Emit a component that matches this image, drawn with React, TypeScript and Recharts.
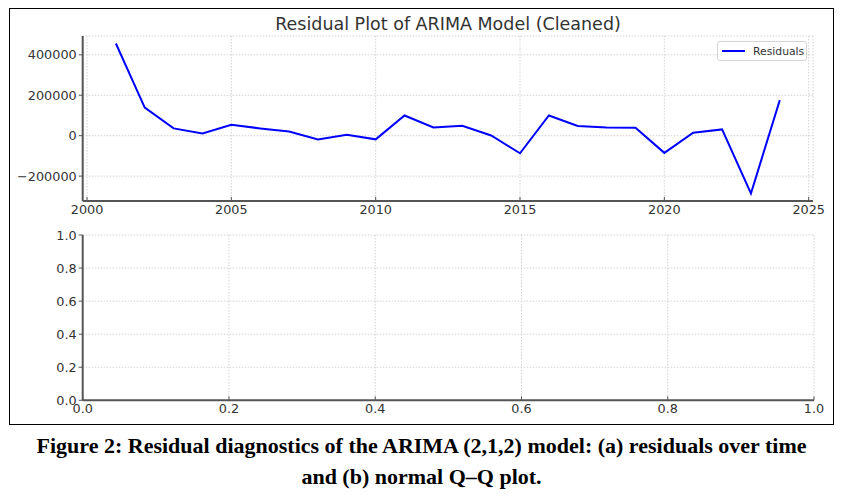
import React from "react";
import { LineChart, Line, XAxis, YAxis, CartesianGrid } from "recharts";

// residuals, one per year
const years = [2001, 2002, 2003, 2004, 2005, 2006, 2007, 2008, 2009, 2010, 2011, 2012, 2013, 2014, 2015, 2016, 2017, 2018, 2019, 2020, 2021, 2022, 2023, 2024];
const residuals = [456000, 139000, 36000, 11000, 54000, 36000, 21000, -19000, 5000, -18000, 100000, 41000, 49000, 1000, -87000, 100000, 48000, 41000, 39500, -85000, 15000, 31000, -286000, 176000];

const yearTicks = [2000, 2005, 2010, 2015, 2020, 2025];
const residualTicks = [-200000, 0, 200000, 400000];
const unitTicks = [0, 0.2, 0.4, 0.6, 0.8, 1.0];

const rows = years.map((y, i) => ({ year: y, resid: residuals[i] }));

// matplotlib-style 5% margins
function padded(vals: number[]): [number, number] {
  const lo = Math.min(...vals);
  const hi = Math.max(...vals);
  const r = hi - lo;
  return [lo - r * 0.05, hi + r * 0.05];
}

const FONT = "'DejaVu Sans', sans-serif";
const tickStyle = { fill: "#333", fontSize: 12.8, fontFamily: FONT };
const axisLine = { stroke: "#555", strokeWidth: 2 };
const gridProps = { stroke: "#c8c8c8", strokeDasharray: "1.5 1.5", strokeWidth: 0.8 };

const fmtBig = (v: number) => (v < 0 ? "\u2212" + Math.abs(v) : String(v));
const fmtUnit = (v: number) => v.toFixed(1);

function LegendBox() {
  return (
    <div
      style={{
        position: "absolute",
        left: 717,
        top: 41,
        width: 90,
        height: 20,
        border: "1px solid #d4d4d4",
        borderRadius: 3,
        background: "#fff",
        display: "flex",
        alignItems: "center",
        fontFamily: FONT,
        fontSize: 10.8,
        color: "#333",
        boxSizing: "border-box",
      }}
    >
      <span style={{ display: "inline-block", width: 23, height: 2, background: "#0000ff", marginLeft: 4, marginRight: 8 }} />
      Residuals
    </div>
  );
}

export default function App() {
  return (
    <div style={{ position: "absolute", left: 0, top: 0, width: 843, height: 503, background: "#fff" }}>
      <div
        style={{
          position: "absolute",
          left: 9,
          top: 8,
          width: 825,
          height: 417,
          border: "1.5px solid #000",
          boxSizing: "border-box",
        }}
      />
      <div
        style={{
          position: "absolute",
          left: 0,
          top: 14,
          width: 896,
          textAlign: "center",
          fontFamily: FONT,
          fontSize: 17.5,
          color: "#333",
          whiteSpace: "nowrap",
        }}
      >
        Residual Plot of ARIMA Model (Cleaned)
      </div>

      <div style={{ position: "absolute", left: 0, top: 0 }}>
        <LineChart width={843} height={230} data={rows} margin={{ top: 36, right: 30, bottom: 4, left: 22.7 }}>
          <CartesianGrid {...gridProps} />
          <XAxis
            dataKey="year"
            type="number"
            domain={padded(years)}
            ticks={yearTicks}
            allowDataOverflow
            height={25}
            axisLine={axisLine}
            tickLine={{ stroke: "#555" }}
            tickSize={-4}
            tickMargin={8}
            tick={tickStyle}
          />
          <YAxis
            type="number"
            domain={padded(residuals)}
            ticks={residualTicks}
            allowDataOverflow
            width={60}
            axisLine={axisLine}
            tickLine={{ stroke: "#555" }}
            tickSize={4}
            tickMargin={2}
            tick={tickStyle}
            tickFormatter={fmtBig}
          />
          <Line
            type="linear"
            dataKey="resid"
            name="Residuals"
            stroke="#0000ff"
            strokeWidth={2}
            dot={false}
            isAnimationActive={false}
          />
        </LineChart>
      </div>
      <LegendBox />

      <div style={{ position: "absolute", left: 0, top: 220 }}>
        <LineChart width={843} height={210} data={[]} margin={{ top: 15, right: 29, bottom: 4.7, left: 22.7 }}>
          <CartesianGrid {...gridProps} />
          <XAxis
            dataKey="x"
            type="number"
            domain={[0, 1]}
            ticks={unitTicks}
            allowDataOverflow
            height={25}
            axisLine={axisLine}
            tickLine={{ stroke: "#555" }}
            tickSize={-4}
            tickMargin={8}
            tick={tickStyle}
            tickFormatter={fmtUnit}
          />
          <YAxis
            type="number"
            domain={[0, 1]}
            ticks={unitTicks}
            allowDataOverflow
            width={60}
            axisLine={axisLine}
            tickLine={{ stroke: "#555" }}
            tickSize={4}
            tickMargin={2}
            tick={tickStyle}
            tickFormatter={fmtUnit}
          />
          <Line dataKey="y" stroke="#0000ff" dot={false} isAnimationActive={false} />
        </LineChart>
      </div>

      <div
        style={{
          position: "absolute",
          left: 0,
          top: 430,
          width: 843,
          textAlign: "center",
          fontFamily: "'Liberation Serif', 'Times New Roman', serif",
          fontWeight: "bold",
          fontSize: 22,
          lineHeight: "31px",
          color: "#000",
        }}
      >
        Figure 2: Residual diagnostics of the ARIMA (2,1,2) model: (a) residuals over time
        <br />
        and (b) normal Q–Q plot.
      </div>
    </div>
  );
}
